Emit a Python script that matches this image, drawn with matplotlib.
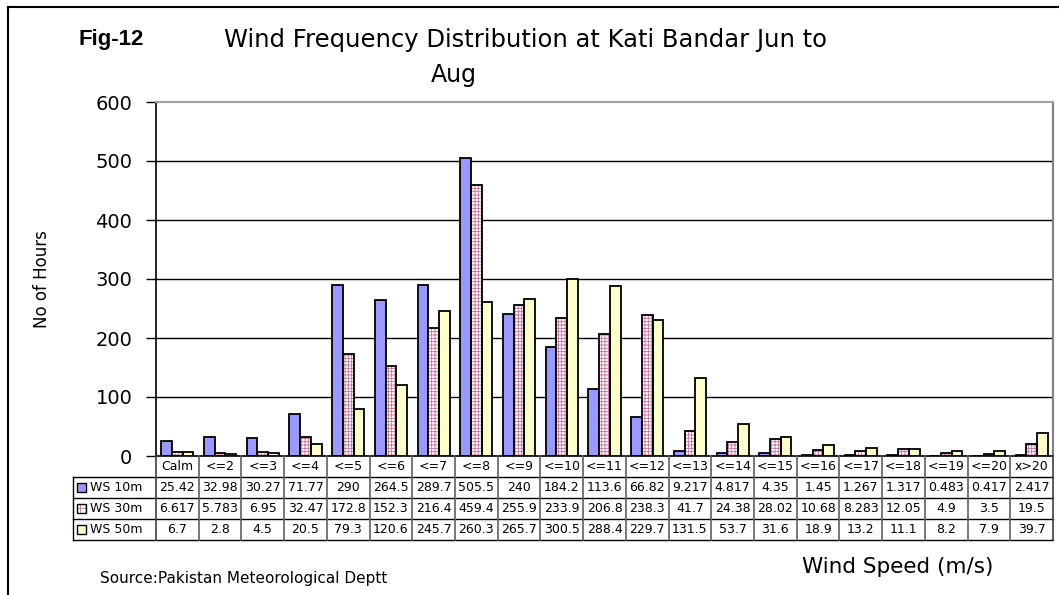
import matplotlib
matplotlib.use("Agg")
import matplotlib.pyplot as plt
import matplotlib.transforms as mtransforms
from matplotlib.lines import Line2D
from matplotlib.patches import Rectangle
import numpy as np

categories = ["Calm", "<=2", "<=3", "<=4", "<=5", "<=6", "<=7", "<=8", "<=9", "<=10",
              "<=11", "<=12", "<=13", "<=14", "<=15", "<=16", "<=17", "<=18", "<=19",
              "<=20", "x>20"]
ws10 = [25.42, 32.98, 30.27, 71.77, 290, 264.5, 289.7, 505.5, 240, 184.2, 113.6, 66.82,
        9.217, 4.817, 4.35, 1.45, 1.267, 1.317, 0.483, 0.417, 2.417]
ws30 = [6.617, 5.783, 6.95, 32.47, 172.8, 152.3, 216.4, 459.4, 255.9, 233.9, 206.8, 238.3,
        41.7, 24.38, 28.02, 10.68, 8.283, 12.05, 4.9, 3.5, 19.5]
ws50 = [6.7, 2.8, 4.5, 20.5, 79.3, 120.6, 245.7, 260.3, 265.7, 300.5, 288.4, 229.7,
        131.5, 53.7, 31.6, 18.9, 13.2, 11.1, 8.2, 7.9, 39.7]
ws10_txt = ["25.42", "32.98", "30.27", "71.77", "290", "264.5", "289.7", "505.5", "240", "184.2",
            "113.6", "66.82", "9.217", "4.817", "4.35", "1.45", "1.267", "1.317", "0.483",
            "0.417", "2.417"]
ws30_txt = ["6.617", "5.783", "6.95", "32.47", "172.8", "152.3", "216.4", "459.4", "255.9",
            "233.9", "206.8", "238.3", "41.7", "24.38", "28.02", "10.68", "8.283", "12.05",
            "4.9", "3.5", "19.5"]
ws50_txt = ["6.7", "2.8", "4.5", "20.5", "79.3", "120.6", "245.7", "260.3", "265.7", "300.5",
            "288.4", "229.7", "131.5", "53.7", "31.6", "18.9", "13.2", "11.1", "8.2", "7.9",
            "39.7"]
series_names = ["WS 10m", "WS 30m", "WS 50m"]
yticks = [0, 100, 200, 300, 400, 500, 600]

W, H = 1059, 595
plt.rcParams['font.family'] = ['DejaVu Sans']
plt.rcParams['hatch.linewidth'] = 0.6
fig = plt.figure(figsize=(W / 100, H / 100), dpi=100)

def fx(x):
    return x / W

def fy(y):
    return 1 - y / H

ax_l, ax_r, ax_t, ax_b = 156, 1053, 102, 456
ax = fig.add_axes([fx(ax_l), fy(ax_b), fx(ax_r) - fx(ax_l), fy(ax_t) - fy(ax_b)])

n = len(categories)
x = np.arange(n)
bw = 0.25
c10 = "#9999FF"
c50 = "#FFFFCC"
hatch_col = "#C8709C"

ax.bar(x - bw, ws10, bw, color=c10, edgecolor="black", linewidth=1.3, zorder=3)
ax.bar(x, ws30, bw, color="white", edgecolor=hatch_col, hatch="+++++", linewidth=0, zorder=3)
ax.bar(x, ws30, bw, fill=False, edgecolor="black", linewidth=1.3, zorder=4)
ax.bar(x + bw, ws50, bw, color=c50, edgecolor="black", linewidth=1.3, zorder=3)

ax.set_xlim(-0.5, n - 0.5)
ax.set_ylim(0, 600)
ax.set_yticks(yticks)
ax.set_yticklabels([str(v) for v in yticks], fontsize=14)
ax.tick_params(axis='y', direction='out', length=7, width=1, pad=10)
ax.set_xticks([])
for v in yticks[1:-1]:
    ax.axhline(v, color="black", linewidth=1, zorder=1)
ax.spines['top'].set_color("#a0a0a0")
ax.spines['right'].set_color("#808080")
ax.spines['top'].set_linewidth(1.5)
ax.spines['right'].set_linewidth(1.5)
ax.spines['left'].set_linewidth(1.2)
ax.spines['bottom'].set_linewidth(1.2)

# Data table
bt = mtransforms.blended_transform_factory(ax.transData, fig.transFigure)
row_lines = [477, 498, 519, 540]
for yy in row_lines:
    fig.add_artist(Line2D([fx(73), fx(ax_r)], [fy(yy), fy(yy)], color="black", linewidth=1))
fig.add_artist(Line2D([fx(73), fx(73)], [fy(477), fy(540)], color="black", linewidth=1))
fig.add_artist(Line2D([fx(ax_l), fx(ax_l)], [fy(ax_b), fy(540)], color="#404040", linewidth=1.2))
fig.add_artist(Line2D([fx(ax_r), fx(ax_r)], [fy(ax_b), fy(540)], color="#404040", linewidth=1.2))
for i in range(n - 1):
    fig.add_artist(Line2D([i + 0.5, i + 0.5], [fy(ax_b), fy(540)], transform=bt,
                          color="#606060", linewidth=1.2))

tfs = 9
for i, c in enumerate(categories):
    fig.text(i, fy(466.5), c, transform=bt, ha="center", va="center", fontsize=tfs)
rows = [ws10_txt, ws30_txt, ws50_txt]
row_c = [487.5, 508.5, 529.5]
for r, vals in enumerate(rows):
    for i, v in enumerate(vals):
        fig.text(i, fy(row_c[r]), v, transform=bt, ha="center", va="center", fontsize=tfs)

# legend keys in table
key_fc = [c10, "white", c50]
for r, name in enumerate(series_names):
    yc = row_c[r]
    if r == 1:
        fig.add_artist(Rectangle((fx(77), fy(yc + 4.5)), fx(9), 9 / H, facecolor="white",
                                 edgecolor=hatch_col, hatch="+++", linewidth=0))
        fig.add_artist(Rectangle((fx(77), fy(yc + 4.5)), fx(9), 9 / H, fill=False,
                                 edgecolor="black", linewidth=1))
    else:
        fig.add_artist(Rectangle((fx(77), fy(yc + 4.5)), fx(9), 9 / H,
                                 facecolor=key_fc[r], edgecolor="black", linewidth=1))
    fig.text(fx(90), fy(yc), name, ha="left", va="center", fontsize=tfs)

# titles and labels
fig.text(fx(78), fy(40), "Fig-12", fontsize=16, fontweight="bold", ha="left", va="center",
         family="Liberation Sans")
fig.text(fx(525), fy(40), "Wind Frequency Distribution at Kati Bandar Jun to", fontsize=17.5,
         ha="center", va="center")
fig.text(fx(454), fy(75), "Aug", fontsize=17, ha="center", va="center")
fig.text(fx(42), fy(279), "No of Hours", fontsize=12, rotation=90, ha="center", va="center")
fig.text(fx(898), fy(567), "Wind Speed (m/s)", fontsize=15.5, ha="center", va="center")
fig.text(fx(100), fy(579), "Source:Pakistan Meteorological Deptt", fontsize=11, ha="left",
         va="center")

# outer frame
fig.add_artist(Line2D([fx(8), fx(8)], [fy(7), 0], color="black", linewidth=1.5))
fig.add_artist(Line2D([fx(8), 1], [fy(7), fy(7)], color="black", linewidth=1.5))

fig.savefig("out.png", dpi=100)
